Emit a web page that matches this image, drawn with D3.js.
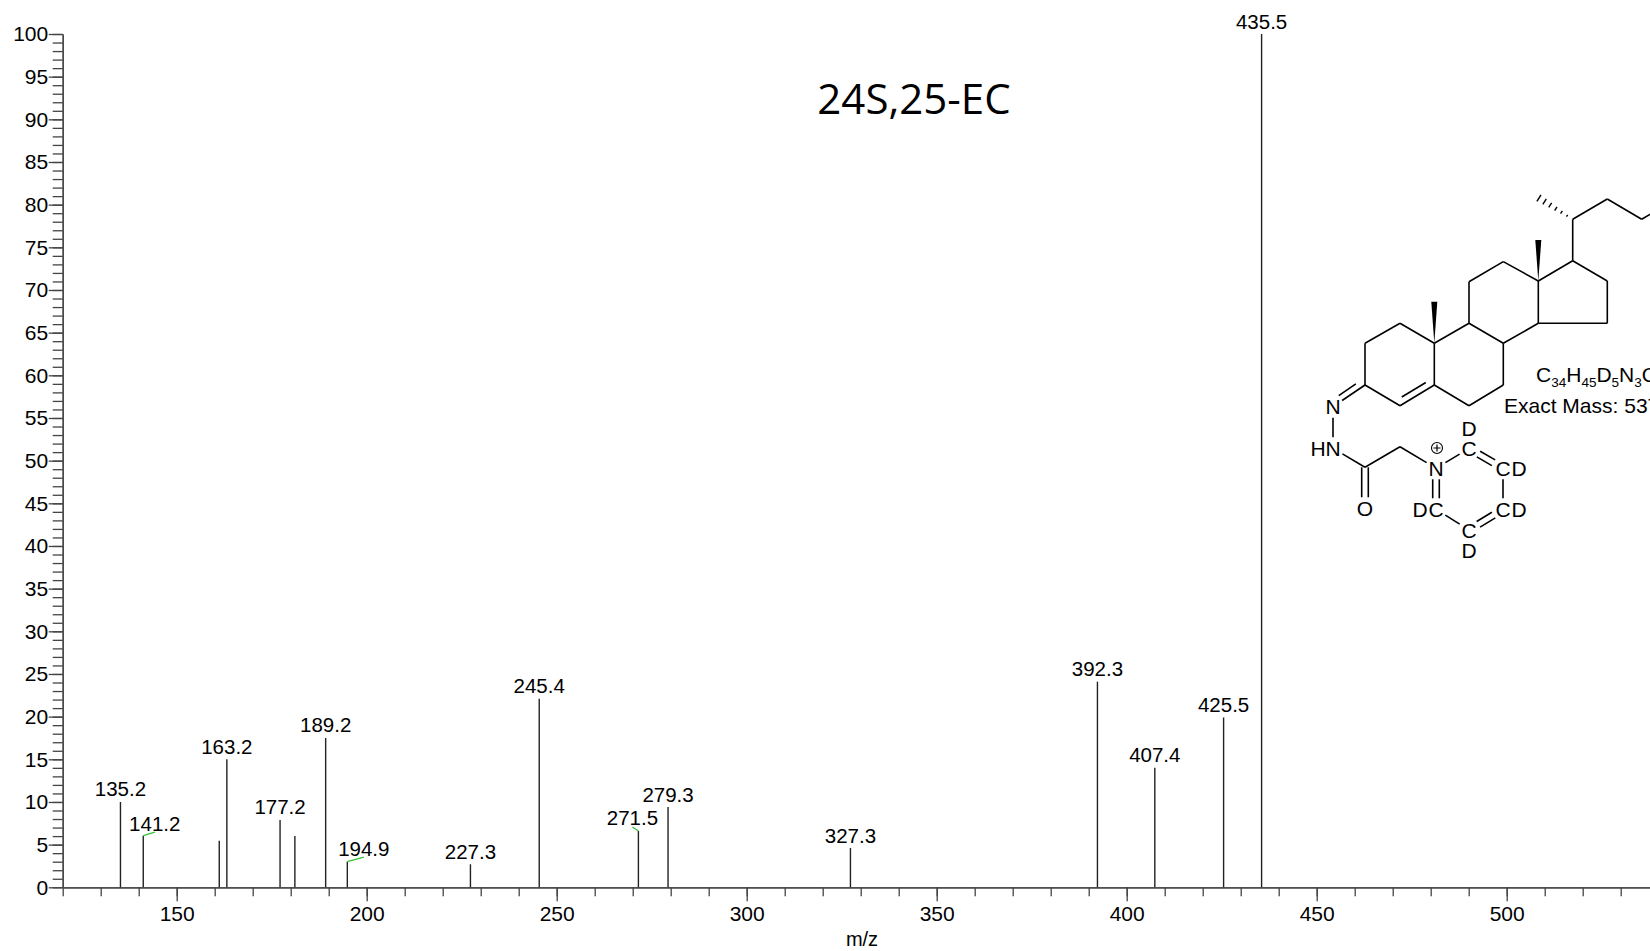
<!DOCTYPE html>
<html>
<head>
<meta charset="utf-8">
<script src="https://cdn.jsdelivr.net/npm/d3@7"></script>
<style>
  body { margin: 0; background: #fff; }
  svg { display: block; overflow: hidden; }
  text { font-family: "Liberation Sans", Arial, sans-serif; fill: #000; }
</style>
</head>
<body>
<svg id="chart" width="1650" height="951"></svg>
<script>
// spectrum data
const peakMz    = [135.2, 141.2, 161.2, 163.2, 177.2, 181.1, 189.2, 194.9, 227.3, 245.4, 271.5, 279.3, 327.3, 392.3, 407.4, 425.5, 435.5];
const peakInt   = [10.0, 6.05, 5.45, 15.0, 7.9, 6.0, 17.5, 3.0, 2.7, 22.1, 6.6, 9.4, 4.6, 24.1, 14.0, 19.9, 100];
const peakLabel = ['135.2', '141.2', '', '163.2', '177.2', '', '189.2', '194.9', '227.3', '245.4', '271.5', '279.3', '327.3', '392.3', '407.4', '425.5', '435.5'];
const xMajor = [150, 200, 250, 300, 350, 400, 450, 500];
const yMajor = d3.range(0, 101, 5);
const title = '24S,25-EC';

// labels that were pushed aside and got a green leader
const nudged = { '141.2': [11.5, -3.5], '194.9': [16.5, -4.5], '271.5': [-6, -4] };

const svg = d3.select('#chart');
const x = d3.scaleLinear().domain([120, 540]).range([62.7, 1658.7]);
const y = d3.scaleLinear().domain([0, 100]).range([887.3, 34]);
const axisCol = '#444';

// x axis
const gx = svg.append('g').attr('transform', `translate(0,${y(0)})`);
gx.call(d3.axisBottom(x).tickValues(d3.range(120, 541, 10)).tickSize(9).tickSizeOuter(0).tickFormat(''));
gx.append('g').call(d3.axisBottom(x).tickValues(xMajor).tickSize(14).tickPadding(5).tickSizeOuter(0));
gx.selectAll('path,line').attr('stroke', axisCol).attr('stroke-width', 1.3);
gx.selectAll('text').style('font-size', '21px').attr('fill', '#000');

// y axis
const gy = svg.append('g').attr('transform', `translate(${x(120)},0)`);
gy.call(d3.axisLeft(y).tickValues(d3.range(0, 101, 1)).tickSize(10).tickSizeOuter(0).tickFormat(''));
gy.append('g').call(d3.axisLeft(y).tickValues(yMajor).tickSize(14).tickPadding(0.5).tickSizeOuter(0));
gy.selectAll('path,line').attr('stroke', axisCol).attr('stroke-width', 1.3);
gy.selectAll('text').style('font-size', '21px').attr('fill', '#000');

svg.append('text').attr('x', 862).attr('y', 946).attr('text-anchor', 'middle')
  .style('font-size', '20px').text('m/z');

// peaks
const peaks = peakMz.map((m, i) => ({ m, v: peakInt[i], label: peakLabel[i] }));
svg.append('g').selectAll('line').data(peaks).join('line')
  .attr('x1', d => x(d.m)).attr('x2', d => x(d.m))
  .attr('y1', y(0)).attr('y2', d => y(d.v))
  .attr('stroke', '#222').attr('stroke-width', 1.4);

const lab = svg.append('g');
peaks.filter(d => d.label).forEach(d => {
  const px = x(d.m), py = y(d.v);
  const n = nudged[d.label];
  if (n) {
    lab.append('line').attr('x1', px).attr('y1', py).attr('x2', px + n[0]).attr('y2', py + n[1])
      .attr('stroke', '#33c233').attr('stroke-width', 1.2);
    lab.append('text').attr('x', px + n[0]).attr('y', py + n[1] - 1.5)
      .attr('text-anchor', 'middle').style('font-size', '20.5px').text(d.label);
  } else {
    lab.append('text').attr('x', px).attr('y', py - 5.5)
      .attr('text-anchor', 'middle').style('font-size', '20.5px').text(d.label);
  }
});

svg.append('text').attr('x', 914).attr('y', 114).attr('text-anchor', 'middle')
  .style('font-family', '"Open Sans", sans-serif').style('font-size', '42px').text(title);

// ---- structure drawing (GP-d5 derivative) ----
const atoms = {
  C1: [1400, 323.3], C2: [1365, 343.3], C3: [1365, 385], C4: [1400, 405.7], C5: [1434.3, 385], C10: [1434.3, 343.3],
  C6: [1469, 405.7], C7: [1503.3, 385], C8: [1503.3, 343.3], C9: [1469, 323.3],
  C11: [1469, 281.7], C12: [1503.3, 261.6], C13: [1538.3, 281], C14: [1538.3, 323.3],
  C15: [1607.3, 323.3], C16: [1607.3, 281], C17: [1572.7, 260.7], C20: [1572.7, 219.3], C21: [1536.7, 196.7],
  C22: [1607.3, 199], C23: [1641.7, 219.3], C24: [1676.4, 199], C18: [1538.3, 240], C19: [1434.3, 301.7],
  N1: [1333, 406.7], N2: [1333, 448.3], Cc: [1365, 467.3], O: [1365, 508.3], CH2: [1400, 446.7],
  Np: [1436, 468.3], Pa: [1469, 448.5], Pb: [1503, 468.3], Pc: [1503, 509.3], Pd: [1469, 530], Pe: [1436, 509.3]
};
const labelled = { N1: 'N', N2: 'N', O: 'O', Np: 'N', Pa: 'C', Pb: 'C', Pc: 'C', Pd: 'C', Pe: 'C' };
const bonds = [
  ['C1', 'C2', 1], ['C2', 'C3', 1], ['C3', 'C4', 1], ['C4', 'C5', 'in'], ['C5', 'C10', 1], ['C10', 'C1', 1],
  ['C10', 'C9', 1], ['C9', 'C8', 1], ['C8', 'C7', 1], ['C7', 'C6', 1], ['C6', 'C5', 1],
  ['C9', 'C11', 1], ['C11', 'C12', 1], ['C12', 'C13', 1], ['C13', 'C14', 1], ['C14', 'C8', 1],
  ['C13', 'C17', 1], ['C17', 'C16', 1], ['C16', 'C15', 1], ['C15', 'C14', 1],
  ['C17', 'C20', 1], ['C20', 'C22', 1], ['C22', 'C23', 1], ['C23', 'C24', 1],
  ['C20', 'C21', 'hash'], ['C13', 'C18', 'wedge'], ['C10', 'C19', 'wedge'],
  ['C3', 'N1', 'side'], ['N1', 'N2', 1], ['N2', 'Cc', 1], ['Cc', 'O', 2], ['Cc', 'CH2', 1], ['CH2', 'Np', 1],
  ['Np', 'Pa', 1], ['Pa', 'Pb', 2], ['Pb', 'Pc', 1], ['Pc', 'Pd', 2], ['Pd', 'Pe', 1], ['Pe', 'Np', 2]
];

const mol = svg.append('g').attr('stroke', '#000').attr('stroke-width', 1.6).attr('fill', 'none');
const seg = (p, q) => mol.append('line').attr('x1', p[0]).attr('y1', p[1]).attr('x2', q[0]).attr('y2', q[1]);

bonds.forEach(([a, b, t]) => {
  let p = atoms[a].slice(), q = atoms[b].slice();
  const dx = q[0] - p[0], dy = q[1] - p[1], len = Math.hypot(dx, dy);
  const u = [dx / len, dy / len], n = [-u[1], u[0]];
  const ta = labelled[a] ? 11 : 0, tb = labelled[b] ? 11 : 0;
  p = [p[0] + u[0] * ta, p[1] + u[1] * ta];
  q = [q[0] - u[0] * tb, q[1] - u[1] * tb];
  const off = (pt, k) => [pt[0] + n[0] * k, pt[1] + n[1] * k];
  const along = (pt, k) => [pt[0] + u[0] * k, pt[1] + u[1] * k];
  if (t === 1) seg(p, q);
  else if (t === 2) { seg(off(p, 3.3), off(q, 3.3)); seg(off(p, -3.3), off(q, -3.3)); }
  else if (t === 'in') { seg(p, q); seg(off(along(p, 6), -6.5), off(along(q, -6), -6.5)); }
  else if (t === 'side') { seg(p, q); seg(off(along(p, 7), 6), off(q, 6)); }
  else if (t === 'wedge') {
    mol.append('path').attr('fill', '#000').attr('stroke', 'none')
      .attr('d', d3.line()([p, off(q, 3), off(q, -3)]) + 'Z');
  } else if (t === 'hash') {
    for (let i = 1; i <= 6; i++) {
      const c = along(p, len * i / 6.4), w = 0.6 + 3.2 * i / 6;
      seg(off(c, w), off(c, -w)).attr('stroke-width', 1.4);
    }
  }
});

const txt = svg.append('g').style('font-size', '21px').attr('text-anchor', 'middle');
const put = (s, px, py) => txt.append('text').attr('x', px).attr('y', py).attr('dy', '0.36em').text(s);
Object.keys(labelled).forEach(k => put(labelled[k], atoms[k][0], atoms[k][1]));
put('H', atoms.N2[0] - 15, atoms.N2[1]);
put('D', atoms.Pa[0], atoms.Pa[1] - 20);
put('D', atoms.Pb[0] + 16, atoms.Pb[1]);
put('D', atoms.Pc[0] + 16, atoms.Pc[1]);
put('D', atoms.Pd[0], atoms.Pd[1] + 20);
put('D', atoms.Pe[0] - 16, atoms.Pe[1]);
svg.append('circle').attr('cx', 1437).attr('cy', 448).attr('r', 5.5).attr('fill', 'none').attr('stroke', '#000').attr('stroke-width', 1.1);
svg.append('path').attr('d', 'M1433.5,448H1440.5M1437,444.5V451.5').attr('stroke', '#000').attr('stroke-width', 1.2);

// formula with subscripts
const formulaParts = [['C', 0], ['34', 1], ['H', 0], ['45', 1], ['D', 0], ['5', 1], ['N', 0], ['3', 1], ['O', 0], ['2', 1]];
const formula = svg.append('text').attr('x', 1536).attr('y', 382).style('font-size', '21px');
let low = 0;
formulaParts.forEach(([s, sub]) => {
  formula.append('tspan').text(s)
    .attr('dy', sub ? 5 - low : -low)
    .style('font-size', sub ? '13.5px' : '21px');
  low = sub ? 5 : 0;
});
svg.append('text').attr('x', 1504).attr('y', 413).style('font-size', '21px').text('Exact Mass: 537.42');
</script>
</body>
</html>
